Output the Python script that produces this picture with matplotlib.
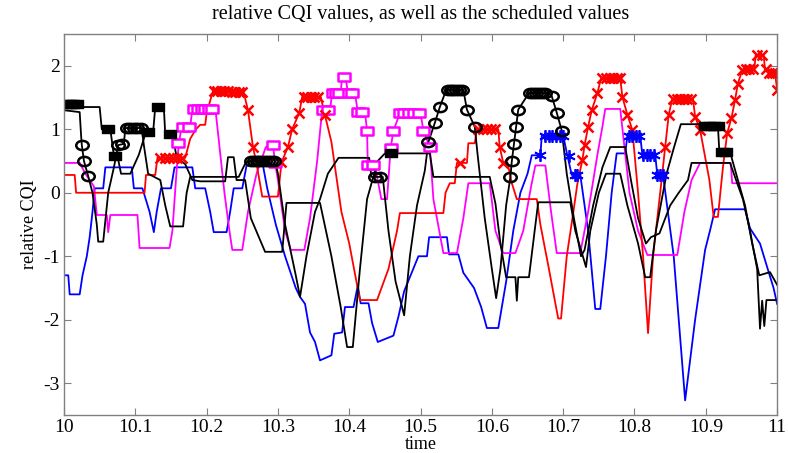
import numpy as np
import matplotlib.pyplot as plt
from matplotlib.path import Path
from matplotlib.transforms import Affine2D

# relative CQI per user: (time, value) vertices
cqi_blue = [
    (10.000, -1.30), (10.006, -1.30), (10.008, -1.60), (10.022, -1.60), (10.026, -1.30),
    (10.032, -1.00), (10.036, -0.70), (10.040, -0.30), (10.043, 0.07), (10.055, 0.07),
    (10.058, 0.40), (10.095, 0.40), (10.098, 0.07), (10.110, 0.07), (10.120, -0.30),
    (10.126, -0.62), (10.130, -0.30), (10.136, 0.07), (10.150, 0.07), (10.155, 0.40),
    (10.180, 0.40), (10.184, 0.07), (10.198, 0.07), (10.205, -0.30), (10.210, -0.62),
    (10.228, -0.62), (10.233, -0.30), (10.238, 0.07), (10.250, 0.07), (10.256, 0.43),
    (10.279, 0.43), (10.285, 0.07), (10.297, -0.50), (10.310, -1.00), (10.325, -1.50),
    (10.331, -1.64), (10.338, -1.75), (10.345, -2.20), (10.352, -2.35), (10.359, -2.64),
    (10.375, -2.56), (10.379, -2.22), (10.390, -2.20), (10.394, -1.80), (10.406, -1.80),
    (10.412, -1.46), (10.416, -1.74), (10.427, -1.74), (10.432, -2.05), (10.440, -2.35),
    (10.462, -2.25), (10.469, -1.95), (10.477, -1.55), (10.485, -1.33), (10.497, -1.00),
    (10.509, -1.00), (10.512, -0.70), (10.537, -0.70), (10.540, -0.97), (10.553, -0.97),
    (10.560, -1.26), (10.575, -1.50), (10.585, -1.80), (10.593, -2.13), (10.609, -2.13),
    (10.620, -1.40), (10.630, -0.60), (10.640, 0.00), (10.650, 0.30), (10.656, 0.59),
    (10.668, 0.59), (10.670, 0.90), (10.700, 0.90), (10.706, 0.58), (10.712, 0.28),
    (10.724, 0.28), (10.735, -0.60), (10.745, -1.83), (10.752, -1.83), (10.760, -1.00),
    (10.768, 0.00), (10.775, 0.62), (10.787, 0.62), (10.790, 0.90), (10.808, 0.90),
    (10.811, 0.60), (10.829, 0.60), (10.832, 0.28), (10.840, 0.28), (10.855, -1.00),
    (10.871, -3.27), (10.885, -2.00), (10.899, -0.90), (10.906, -0.59), (10.913, -0.26),
    (10.955, -0.26), (10.962, -0.56), (10.976, -0.80), (10.986, -1.17), (10.995, -1.50),
    (11.000, -1.75),
]

cqi_red = [
    (10.000, 0.28), (10.015, 0.28), (10.017, 0.00), (10.113, 0.00), (10.115, 0.28),
    (10.128, 0.28), (10.131, 0.55), (10.170, 0.55), (10.177, 0.85), (10.185, 1.00),
    (10.191, 1.07), (10.198, 1.07), (10.200, 1.25), (10.205, 1.45), (10.209, 1.60),
    (10.252, 1.58), (10.258, 1.30), (10.265, 0.72), (10.270, 0.46), (10.274, 0.20),
    (10.278, -0.06), (10.300, -0.06), (10.305, 0.48), (10.314, 0.72), (10.320, 1.00),
    (10.330, 1.26), (10.334, 1.51), (10.360, 1.51), (10.366, 1.22), (10.375, 0.80),
    (10.389, -0.30), (10.400, -0.80), (10.415, -1.69), (10.439, -1.69), (10.455, -1.20),
    (10.467, -0.60), (10.471, -0.32), (10.532, -0.32), (10.535, 0.00), (10.541, 0.15),
    (10.548, 0.15), (10.551, 0.47), (10.565, 0.47), (10.567, 0.78), (10.576, 0.78),
    (10.579, 1.00), (10.609, 1.00), (10.611, 0.72), (10.616, 0.47), (10.622, 0.47),
    (10.628, 0.15), (10.635, -0.10), (10.663, -0.10), (10.668, -0.50), (10.680, -1.20),
    (10.693, -1.98), (10.697, -1.98), (10.705, -1.00), (10.713, -0.40), (10.720, 0.15),
    (10.727, 0.52), (10.730, 0.75), (10.735, 1.04), (10.740, 1.30), (10.748, 1.57),
    (10.753, 1.80), (10.780, 1.80), (10.783, 1.51), (10.790, 1.23), (10.797, 0.99),
    (10.805, 0.00), (10.812, -1.00), (10.819, -2.21), (10.826, -1.00), (10.833, -0.30),
    (10.838, 0.20), (10.843, 0.72), (10.848, 1.23), (10.853, 1.48), (10.882, 1.48),
    (10.885, 1.20), (10.892, 0.99), (10.905, 0.20), (10.911, -0.38), (10.917, -0.38),
    (10.924, 0.40), (10.930, 0.94), (10.936, 1.18), (10.941, 1.46), (10.945, 1.72),
    (10.951, 1.93), (10.968, 1.95), (10.970, 2.17), (10.981, 2.17), (10.983, 1.95),
    (10.987, 1.89), (10.997, 1.89), (11.000, 1.62),
]

cqi_magenta = [
    (10.000, 0.47), (10.022, 0.47), (10.030, 0.30), (10.042, 0.10), (10.046, -0.35),
    (10.060, -0.35), (10.062, -0.62), (10.065, -0.35), (10.103, -0.35), (10.106, -0.87),
    (10.148, -0.87), (10.152, -0.60), (10.158, 0.36), (10.161, 0.78), (10.165, 1.04),
    (10.177, 1.04), (10.180, 1.32), (10.210, 1.32), (10.213, 1.25), (10.225, 0.00),
    (10.232, -0.60), (10.236, -0.90), (10.250, -0.90), (10.258, -0.30), (10.270, 0.30),
    (10.283, 0.72), (10.293, 0.75), (10.296, 0.47), (10.300, 0.20), (10.310, -0.60),
    (10.318, -0.90), (10.337, -0.90), (10.345, -0.40), (10.355, 0.50), (10.362, 1.30),
    (10.373, 1.30), (10.376, 1.57), (10.388, 1.57), (10.390, 1.82), (10.395, 1.82),
    (10.398, 1.57), (10.408, 1.57), (10.412, 1.27), (10.422, 1.27), (10.425, 0.98),
    (10.426, 0.43), (10.436, 0.43), (10.445, -0.10), (10.453, -0.10), (10.458, 0.70),
    (10.462, 0.98), (10.471, 1.25), (10.500, 1.25), (10.504, 0.98), (10.513, 0.72),
    (10.518, -0.10), (10.532, -0.95), (10.551, -0.95), (10.560, -0.40), (10.567, 0.15),
    (10.597, 0.15), (10.605, -0.60), (10.616, -0.95), (10.633, -0.95), (10.644, -0.60),
    (10.655, 0.10), (10.661, 0.43), (10.675, 0.43), (10.683, -0.30), (10.691, -0.95),
    (10.724, -0.95), (10.735, -0.30), (10.748, 0.60), (10.755, 1.04), (10.759, 1.32),
    (10.780, 1.32), (10.793, 0.00), (10.805, -0.60), (10.818, -0.98), (10.860, -0.98),
    (10.870, -0.30), (10.880, 0.20), (10.892, 0.47), (10.935, 0.47), (10.937, 0.15),
    (11.000, 0.15),
]

cqi_black_a = [
    (10.000, 1.40), (10.020, 1.40), (10.022, 1.35), (10.050, 1.35), (10.053, 1.00),
    (10.065, 1.00), (10.070, 0.58), (10.075, 0.58), (10.080, 0.30), (10.093, 0.30),
    (10.105, 0.60), (10.115, 0.96), (10.125, 0.96), (10.128, 1.35), (10.140, 1.35),
    (10.142, 0.92), (10.152, 0.92), (10.158, 0.56), (10.170, 0.45), (10.180, 0.20),
    (10.191, 0.18), (10.226, 0.18), (10.230, 0.56), (10.238, 0.56), (10.242, 0.20),
    (10.254, 0.20), (10.262, -0.40), (10.282, -0.93), (10.306, -0.93), (10.312, -0.16),
    (10.359, -0.16), (10.375, -1.00), (10.388, -1.80), (10.397, -2.43), (10.405, -2.43),
    (10.415, -1.20), (10.425, -0.10), (10.440, 0.50), (10.450, 0.62), (10.513, 0.62),
    (10.518, 0.25), (10.597, 0.25), (10.605, -0.17), (10.612, -0.80), (10.620, -1.33),
    (10.633, -1.33), (10.635, -1.70), (10.637, -1.33), (10.652, -1.33), (10.660, -0.60),
    (10.665, -0.15), (10.710, -0.15), (10.717, -0.60), (10.725, -0.90), (10.732, -1.17),
    (10.738, -0.60), (10.750, 0.00), (10.760, 0.30), (10.780, 0.30), (10.790, -0.20),
    (10.805, -0.80), (10.815, -1.33), (10.822, -1.33), (10.830, -0.60), (10.845, 0.30),
    (10.855, 0.70), (10.865, 1.08), (10.897, 1.08), (10.900, 1.05), (10.917, 1.05),
    (10.919, 0.64), (10.934, 0.64), (10.945, 0.20), (10.955, -0.20), (10.965, -0.80),
    (10.975, -1.30), (10.990, -1.25), (11.000, -1.45),
]

cqi_black_b = [
    (10.000, 1.30), (10.022, 1.27), (10.024, 0.90), (10.025, 0.75), (10.028, 0.50),
    (10.034, 0.26), (10.040, 0.00), (10.046, -0.50), (10.048, -0.77), (10.055, -0.77),
    (10.062, 0.00), (10.070, 0.40), (10.076, 0.75), (10.084, 0.77), (10.086, 1.02),
    (10.109, 1.02), (10.112, 0.75), (10.118, 0.30), (10.135, 0.20), (10.142, -0.20),
    (10.149, -0.53), (10.167, -0.53), (10.172, 0.00), (10.177, 0.25), (10.245, 0.25),
    (10.255, 0.48), (10.262, 0.50), (10.296, 0.50), (10.300, 0.30), (10.310, -0.50),
    (10.325, -1.30), (10.331, -1.64), (10.340, -1.00), (10.352, -0.30), (10.359, -0.10),
    (10.370, 0.30), (10.385, 0.55), (10.428, 0.55), (10.431, 0.25), (10.447, 0.25),
    (10.455, -0.60), (10.465, -1.40), (10.477, -1.93), (10.485, -1.00), (10.495, -0.20),
    (10.506, 0.35), (10.511, 0.80), (10.520, 1.10), (10.527, 1.35), (10.536, 1.62),
    (10.560, 1.62), (10.565, 1.31), (10.576, 1.04), (10.580, 0.60), (10.590, -0.40),
    (10.600, -1.20), (10.606, -1.66), (10.612, -1.20), (10.620, -0.20), (10.626, 0.25),
    (10.628, 0.50), (10.631, 0.77), (10.634, 1.04), (10.637, 1.31), (10.652, 1.57),
    (10.680, 1.57), (10.684, 1.52), (10.691, 1.26), (10.698, 0.98), (10.705, 0.30),
    (10.715, -0.40), (10.725, -1.00), (10.730, -0.90), (10.742, -0.20), (10.755, 0.40),
    (10.766, 0.72), (10.787, 0.72), (10.795, 0.20), (10.805, -0.40), (10.816, -0.80),
    (10.823, -0.70), (10.835, -0.64), (10.850, -0.20), (10.862, 0.00), (10.875, 0.20),
    (10.880, 0.47), (10.934, 0.47), (10.944, 0.15), (10.952, -0.10), (10.962, -0.60),
    (10.972, -1.20), (10.976, -2.14), (10.979, -1.70), (10.982, -2.10), (10.985, -1.69),
    (11.000, -1.69),
]

# scheduled values: (time, value) at the instants each user is served
sched_black_a = [
    (10.003, 1.40), (10.008, 1.40), (10.013, 1.40), (10.018, 1.40), (10.062, 1.00),
    (10.072, 0.58), (10.118, 0.96), (10.132, 1.35), (10.149, 0.92), (10.458, 0.62),
    (10.899, 1.05), (10.905, 1.05), (10.911, 1.05), (10.917, 1.05), (10.922, 0.64),
    (10.928, 0.64),
]

sched_black_b = [
    (10.025, 0.75), (10.028, 0.50), (10.034, 0.26), (10.076, 0.75), (10.082, 0.77),
    (10.088, 1.02), (10.093, 1.02), (10.098, 1.02), (10.103, 1.02), (10.108, 1.02),
    (10.262, 0.50), (10.266, 0.50), (10.270, 0.50), (10.274, 0.50), (10.278, 0.50),
    (10.282, 0.50), (10.286, 0.50), (10.290, 0.50), (10.294, 0.50), (10.436, 0.25),
    (10.443, 0.25), (10.511, 0.80), (10.520, 1.10), (10.527, 1.35), (10.538, 1.62),
    (10.542, 1.62), (10.546, 1.62), (10.550, 1.62), (10.554, 1.62), (10.558, 1.62),
    (10.565, 1.31), (10.576, 1.04), (10.626, 0.25), (10.628, 0.50), (10.631, 0.77),
    (10.634, 1.04), (10.637, 1.31), (10.654, 1.57), (10.658, 1.57), (10.662, 1.57),
    (10.666, 1.57), (10.670, 1.57), (10.674, 1.57), (10.684, 1.52), (10.691, 1.26),
    (10.698, 0.98),
]

sched_magenta = [
    (10.160, 0.78), (10.167, 1.04), (10.175, 1.04), (10.183, 1.32), (10.188, 1.32),
    (10.193, 1.32), (10.198, 1.32), (10.203, 1.32), (10.208, 1.32), (10.293, 0.75),
    (10.296, 0.47), (10.363, 1.30), (10.370, 1.30), (10.377, 1.57), (10.382, 1.57),
    (10.386, 1.57), (10.392, 1.82), (10.399, 1.57), (10.404, 1.57), (10.412, 1.27),
    (10.418, 1.27), (10.425, 0.98), (10.427, 0.43), (10.434, 0.43), (10.458, 0.70),
    (10.462, 0.98), (10.471, 1.25), (10.477, 1.25), (10.484, 1.25), (10.491, 1.25),
    (10.498, 1.25), (10.504, 0.98), (10.513, 0.72),
]

sched_red = [
    (10.135, 0.55), (10.141, 0.55), (10.147, 0.55), (10.153, 0.55), (10.159, 0.55),
    (10.165, 0.55), (10.210, 1.60), (10.215, 1.60), (10.220, 1.60), (10.225, 1.60),
    (10.230, 1.60), (10.235, 1.59), (10.240, 1.59), (10.245, 1.59), (10.250, 1.58),
    (10.258, 1.30), (10.265, 0.72), (10.305, 0.48), (10.314, 0.72), (10.320, 1.00),
    (10.330, 1.26), (10.336, 1.51), (10.341, 1.51), (10.346, 1.51), (10.351, 1.51),
    (10.356, 1.51), (10.366, 1.22), (10.555, 0.47), (10.581, 1.00), (10.587, 1.00),
    (10.593, 1.00), (10.599, 1.00), (10.605, 1.00), (10.611, 0.72), (10.616, 0.47),
    (10.727, 0.52), (10.730, 0.75), (10.735, 1.04), (10.740, 1.30), (10.748, 1.57),
    (10.755, 1.80), (10.760, 1.80), (10.765, 1.80), (10.770, 1.80), (10.775, 1.80),
    (10.780, 1.80), (10.783, 1.51), (10.790, 1.23), (10.797, 0.99), (10.843, 0.72),
    (10.848, 1.23), (10.854, 1.48), (10.859, 1.48), (10.864, 1.48), (10.869, 1.48),
    (10.874, 1.48), (10.879, 1.48), (10.885, 1.20), (10.892, 0.99), (10.930, 0.94),
    (10.936, 1.18), (10.941, 1.46), (10.945, 1.72), (10.951, 1.93), (10.956, 1.95),
    (10.961, 1.95), (10.966, 1.95), (10.972, 2.17), (10.979, 2.17), (10.984, 1.95),
    (10.988, 1.89), (10.993, 1.89), (10.997, 1.89), (11.000, 1.62),
]

sched_blue = [
    (10.668, 0.59), (10.675, 0.90), (10.680, 0.90), (10.685, 0.90), (10.690, 0.90),
    (10.695, 0.90), (10.700, 0.90), (10.708, 0.58), (10.716, 0.28), (10.720, 0.28),
    (10.792, 0.90), (10.797, 0.90), (10.802, 0.90), (10.807, 0.90), (10.812, 0.60),
    (10.817, 0.60), (10.822, 0.60), (10.827, 0.60), (10.832, 0.28), (10.836, 0.28),
    (10.840, 0.28),
]

x_ticks = [10, 10.1, 10.2, 10.3, 10.4, 10.5, 10.6, 10.7, 10.8, 10.9, 11]
x_ticklabels = ['10', '10.1', '10.2', '10.3', '10.4', '10.5', '10.6', '10.7', '10.8', '10.9', '11']
y_ticks = [-3, -2, -1, 0, 1, 2]

plt.rcParams['font.family'] = ['Liberation Serif', 'DejaVu Serif']
plt.rcParams['axes.unicode_minus'] = False

# wide markers, centred on the data point
wide = Affine2D().scale(1.35, 1.0)
oval = wide.transform_path(Path.unit_circle())
box = Affine2D().translate(-0.5, -0.5).scale(1.35, 1.0).transform_path(Path.unit_rectangle())

fig = plt.figure(figsize=(7.88, 4.53), dpi=100)
ax = fig.add_axes([0.0812, 0.0839, 0.905, 0.841])

lines = [
    (cqi_blue, '#0000ff'),
    (cqi_magenta, '#ff00ff'),
    (cqi_red, '#ff0000'),
    (cqi_black_b, 'black'),
    (cqi_black_a, 'black'),
]
for data, col in lines:
    t, v = np.array(data).T
    ax.plot(t, v, color=col, lw=1.3)

t, v = np.array(sched_magenta).T
ax.plot(t, v, ls='none', marker=box, ms=8.5, mfc='white', mec='#ff00ff', mew=1.8)
t, v = np.array(sched_red).T
ax.plot(t, v, ls='none', marker='x', ms=7, mec='#ff0000', mew=1.8)
t, v = np.array(sched_blue).T
ax.plot(t, v, ls='none', marker=(6, 2, 0), ms=9, mec='#0000ff', mew=1.3)
t, v = np.array(sched_black_b).T
ax.plot(t, v, ls='none', marker=oval, ms=9, mfc='none', mec='black', mew=1.8)
t, v = np.array(sched_black_a).T
ax.plot(t, v, ls='none', marker=box, ms=8, mfc='black', mec='black', mew=1.0)

ax.set_xlim(10, 11)
ax.set_ylim(-3.5, 2.5)
ax.set_xticks(x_ticks)
ax.set_xticklabels(x_ticklabels)
ax.set_yticks(y_ticks)
ax.tick_params(direction='in', top=True, right=True, length=5, width=0.8,
               color='#808080', labelsize=14, pad=3)
for s in ax.spines.values():
    s.set_color('#808080')
    s.set_linewidth(1.0)

ax.set_title('relative CQI values, as well as the scheduled values', fontsize=14.5, pad=11)
ax.set_xlabel('time', fontsize=13, labelpad=0)
ax.set_ylabel('relative CQI', fontsize=13, labelpad=4)

fig.savefig('out.png', dpi=100)
